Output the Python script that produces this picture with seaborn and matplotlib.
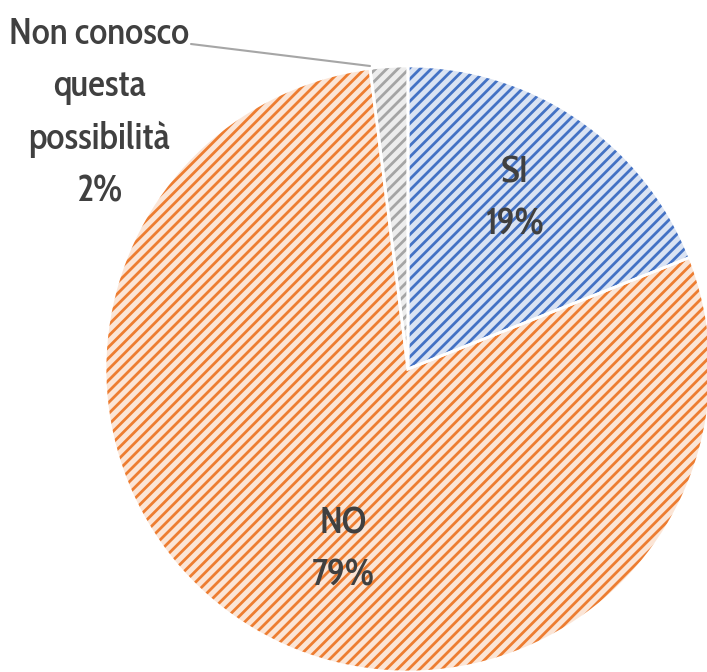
import matplotlib
matplotlib.use("Agg")
import matplotlib.pyplot as plt
import seaborn as sns

sns.set_theme(style="white")

labels = ["SI", "NO", "Non conosco\nquesta\npossibilità"]
values = [19, 79, 2]
face_colors = ["#dae3f3", "#fbe5d6", "#ededed"]
hatch_colors = ["#4472c4", "#ed7d31", "#a5a5a5"]

plt.rcParams["font.family"] = ["Cabin Condensed", "DejaVu Sans"]
plt.rcParams["hatch.linewidth"] = 2.0

W, H = 707, 672
cx, cy, r = 408, 369, 303
fig = plt.figure(figsize=(W / 100, H / 100), dpi=100)
ax = fig.add_axes([0, 0, 1, 1])

# base fill
ax.pie(values, colors=face_colors, startangle=90, counterclock=False,
       wedgeprops=dict(linewidth=0))
# hatch layer
wedges, _ = ax.pie(values, colors=["none"] * 3, startangle=90, counterclock=False,
                   wedgeprops=dict(linewidth=0))
for w, hc in zip(wedges, hatch_colors):
    w.set_facecolor("none")
    w.set_edgecolor(hc)
    w.set_hatch("///")
    w.set_linewidth(0)
# white separators
ax.pie(values, colors=["none"] * 3, startangle=90, counterclock=False,
       wedgeprops=dict(linewidth=2, edgecolor="white", facecolor="none"))

ax.set_xlim(-cx / r, (W - cx) / r)
ax.set_ylim(-(H - cy) / r, cy / r)
ax.set_aspect("equal")
ax.axis("off")


def px(x, y):
    return (x - cx) / r, (cy - y) / r


txt = dict(color="#404040", fontsize=27, fontweight="medium", ha="center",
           va="center", linespacing=1.55)
ax.text(*px(515, 199), f"{labels[0]}\n{values[0]}%", **txt)
ax.text(*px(343, 550), f"{labels[1]}\n{values[1]}%", **txt)
ax.text(*px(99, 113), f"{labels[2]}\n{values[2]}%", **txt)

ax.plot(*zip(px(191, 44), px(370, 66)), color="#a6a6a6", lw=1.5)

fig.savefig("out.png", dpi=100)
